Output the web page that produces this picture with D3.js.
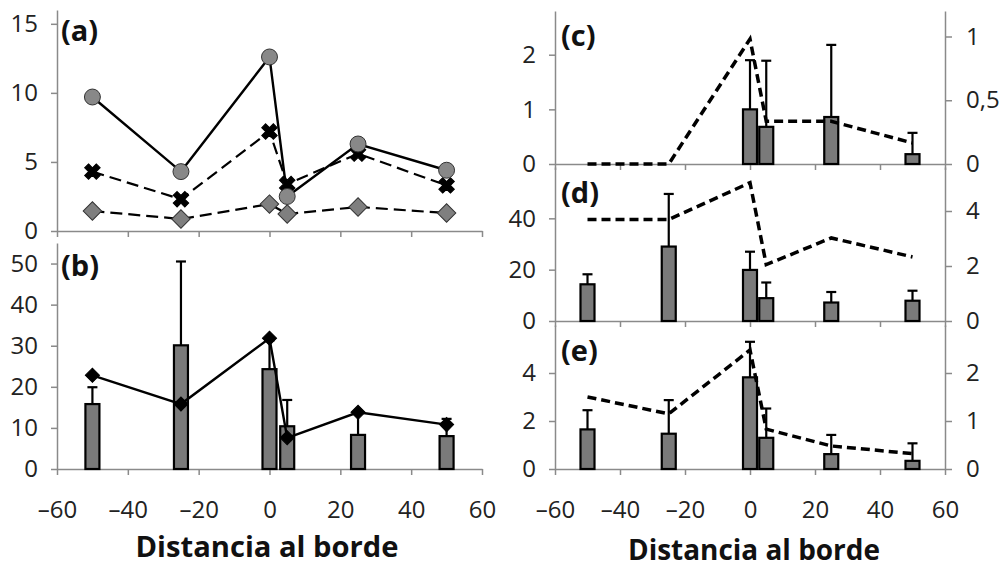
<!DOCTYPE html>
<html>
<head>
<meta charset="utf-8">
<script src="https://cdn.jsdelivr.net/npm/d3@7"></script>
<style>
body { margin: 0; background: #fff; }
.axis path, .axis line { stroke: #8a8a8a; stroke-width: 1.5; }
.axis text { font-family: "Open Sans", sans-serif; font-size: 24px; fill: #222; }
.etiq { font-family: "Open Sans", sans-serif; font-weight: bold; font-size: 29px; fill: #111; }
.titulo { font-family: "Open Sans", sans-serif; font-weight: bold; font-size: 29px; fill: #111; }
</style>
</head>
<body>
<svg id="fig" width="1006" height="569"></svg>
<script>

// distancias al borde (eje x de todos los paneles)
var distancias = [-50, -25, 0, 5, 25, 50];
var xTicks = [-60, -40, -20, 0, 20, 40, 60];

// panel (a): tres series de lineas
var aCirculos = [9.7, 4.3, 12.6, 2.5, 6.3, 4.4];
var aCruces   = [4.3, 2.3, 7.2, 3.4, 5.6, 3.3];
var aRombos   = [1.45, 0.87, 1.95, 1.23, 1.74, 1.3];

// panel (b): barras + error, linea con rombos
var bBarras = [15.8, 30.1, 24.3, 10.4, 8.3, 8.0];
var bError  = [4.1, 20.4, 7.0, 6.4, 5.5, 4.2];
var bLinea  = [22.8, 15.8, 31.8, 7.6, 13.8, 10.8];

// panel (c)
var cBarras = [0, 0, 1.0, 0.68, 0.86, 0.18];
var cError  = [0, 0, 0.9, 1.21, 1.32, 0.39];
var cLinea  = [0, 0, 0.98, 0.335, 0.335, 0.165];

// panel (d)
var dBarras = [14.3, 29.0, 19.9, 8.9, 7.2, 7.9];
var dError  = [3.9, 20.5, 7.1, 6.1, 4.1, 3.9];
var dLinea  = [3.69, 3.69, 5.03, 2.05, 3.02, 2.33];

// panel (e)
var eBarras = [1.65, 1.47, 3.82, 1.3, 0.62, 0.34];
var eError  = [0.8, 1.4, 1.48, 1.22, 0.8, 0.73];
var eLinea  = [1.5, 1.15, 2.48, 0.83, 0.48, 0.32];


var svg = d3.select("#fig");

// decimales con coma
var coma = d3.formatLocale({decimal: ",", thousands: ".", grouping: [3], currency: ["", ""], minus: "\u2013"});
var fmt = coma.format("~g");

var xIzq = d3.scaleLinear().domain([-60, 60]).range([57, 482]);
var xDer = d3.scaleLinear().domain([-60, 60]).range([555, 945]);


function ejes(x, y, yTicks, conEtiquetasX) {
	svg.append("g")
		.attr("class", "axis")
		.attr("transform", "translate(0," + y.range()[0] + ")")
		.call(d3.axisBottom(x).tickValues(xTicks).tickSize(6).tickSizeOuter(0).tickPadding(26)
			.tickFormat(conEtiquetasX ? fmt : ""));

	svg.append("g")
		.attr("class", "axis")
		.attr("transform", "translate(" + x.range()[0] + ",0)")
		.call(d3.axisLeft(y).tickValues(yTicks).tickSize(6).tickSizeOuter(0).tickPadding(13).tickFormat(fmt));
}

function ejeDer(x, y, yTicks) {
	svg.append("g")
		.attr("class", "axis")
		.attr("transform", "translate(" + x.range()[1] + ",0)")
		.call(d3.axisRight(y).tickValues(yTicks).tickSize(7).tickSizeOuter(0).tickPadding(14).tickFormat(fmt));
}

function barras(x, y, vals, errs) {
	var datos = distancias.map(function(d, i) { return {d: d, v: vals[i], e: errs[i]}; })
		.filter(function(p) { return p.v > 0; });
	var g = svg.append("g");

	g.selectAll(".err").data(datos).enter().append("line")
		.attr("x1", function(p) { return x(p.d); })
		.attr("x2", function(p) { return x(p.d); })
		.attr("y1", function(p) { return y(p.v); })
		.attr("y2", function(p) { return y(p.v + p.e); })
		.attr("stroke", "#000").attr("stroke-width", 2.2);

	g.selectAll(".cap").data(datos).enter().append("line")
		.attr("x1", function(p) { return x(p.d) - 5; })
		.attr("x2", function(p) { return x(p.d) + 5; })
		.attr("y1", function(p) { return y(p.v + p.e); })
		.attr("y2", function(p) { return y(p.v + p.e); })
		.attr("stroke", "#000").attr("stroke-width", 2.2);

	g.selectAll("rect").data(datos).enter().append("rect")
		.attr("x", function(p) { return x(p.d) - 7; })
		.attr("y", function(p) { return y(p.v); })
		.attr("width", 14)
		.attr("height", function(p) { return y(0) - y(p.v); })
		.attr("fill", "#7a7a7a")
		.attr("stroke", "#000")
		.attr("stroke-width", 2.2);
}

function linea(x, y, vals, dash, ancho) {
	var l = d3.line()
		.x(function(d, i) { return x(distancias[i]); })
		.y(function(d) { return y(d); });
	svg.append("path")
		.datum(vals)
		.attr("d", l)
		.attr("fill", "none")
		.attr("stroke", "#000")
		.attr("stroke-width", ancho)
		.attr("stroke-dasharray", dash);
}

function marcas(x, y, vals, tipo, tam, rot, relleno, borde) {
	svg.append("g").selectAll("path").data(vals).enter().append("path")
		.attr("d", d3.symbol().type(tipo).size(tam))
		.attr("transform", function(d, i) {
			return "translate(" + x(distancias[i]) + "," + y(d) + ") rotate(" + rot + ")";
		})
		.attr("fill", relleno)
		.attr("stroke", borde)
		.attr("stroke-width", 1);
}

function etiqueta(txt, px, py) {
	svg.append("text").attr("class", "etiq").attr("x", px).attr("y", py).text(txt);
}


// ---- panel (a)
var yA = d3.scaleLinear().domain([0, 16]).range([231, 10]);
ejes(xIzq, yA, [0, 5, 10, 15], false);
linea(xIzq, yA, aRombos, "12,6", 2.2);
linea(xIzq, yA, aCruces, "12,6", 2.2);
linea(xIzq, yA, aCirculos, null, 2.4);
marcas(xIzq, yA, aRombos, d3.symbolSquare, 170, 45, "#7f7f7f", "#333");
marcas(xIzq, yA, aCruces, d3.symbolCross, 150, 45, "#000", "#000");
marcas(xIzq, yA, aCirculos, d3.symbolCircle, 200, 0, "#888", "#333");
etiqueta("(a)", 61, 41);

// ---- panel (b)
var yB = d3.scaleLinear().domain([0, 55]).range([469, 243]);
ejes(xIzq, yB, [0, 10, 20, 30, 40, 50], true);
barras(xIzq, yB, bBarras, bError);
linea(xIzq, yB, bLinea, null, 2.4);
marcas(xIzq, yB, bLinea, d3.symbolSquare, 100, 45, "#000", "#000");
etiqueta("(b)", 61, 276);

// ---- panel (c)
var yC = d3.scaleLinear().domain([0, 2.8]).range([164, 11]);
var yC2 = d3.scaleLinear().domain([0, 1.2]).range([164, 11]);
ejes(xDer, yC, [0, 1, 2], false);
ejeDer(xDer, yC2, [0, 0.5, 1]);
barras(xDer, yC, cBarras, cError);
linea(xDer, yC2, cLinea, "9,5", 3.5);
etiqueta("(c)", 561, 46);

// ---- panel (d)
var yD = d3.scaleLinear().domain([0, 60]).range([321, 167]);
var yD2 = d3.scaleLinear().domain([0, 5.6]).range([321, 167]);
ejes(xDer, yD, [0, 20, 40], false);
ejeDer(xDer, yD2, [0, 2, 4]);
barras(xDer, yD, dBarras, dError);
linea(xDer, yD2, dLinea, "9,5", 3.5);
etiqueta("(d)", 561, 203);

// ---- panel (e)
var yE = d3.scaleLinear().domain([0, 6]).range([469, 325]);
var yE2 = d3.scaleLinear().domain([0, 3]).range([469, 325]);
ejes(xDer, yE, [0, 2, 4], true);
ejeDer(xDer, yE2, [0, 1, 2]);
barras(xDer, yE, eBarras, eError);
linea(xDer, yE2, eLinea, "9,5", 3.5);
etiqueta("(e)", 561, 361);

// titulos del eje x
svg.append("text").attr("class", "titulo")
	.attr("x", 267).attr("y", 557)
	.attr("text-anchor", "middle")
	.attr("textLength", 263).attr("lengthAdjust", "spacingAndGlyphs")
	.text("Distancia al borde");

svg.append("text").attr("class", "titulo")
	.attr("x", 754).attr("y", 560)
	.attr("text-anchor", "middle")
	.attr("textLength", 252).attr("lengthAdjust", "spacingAndGlyphs")
	.text("Distancia al borde");

</script>
</body>
</html>
